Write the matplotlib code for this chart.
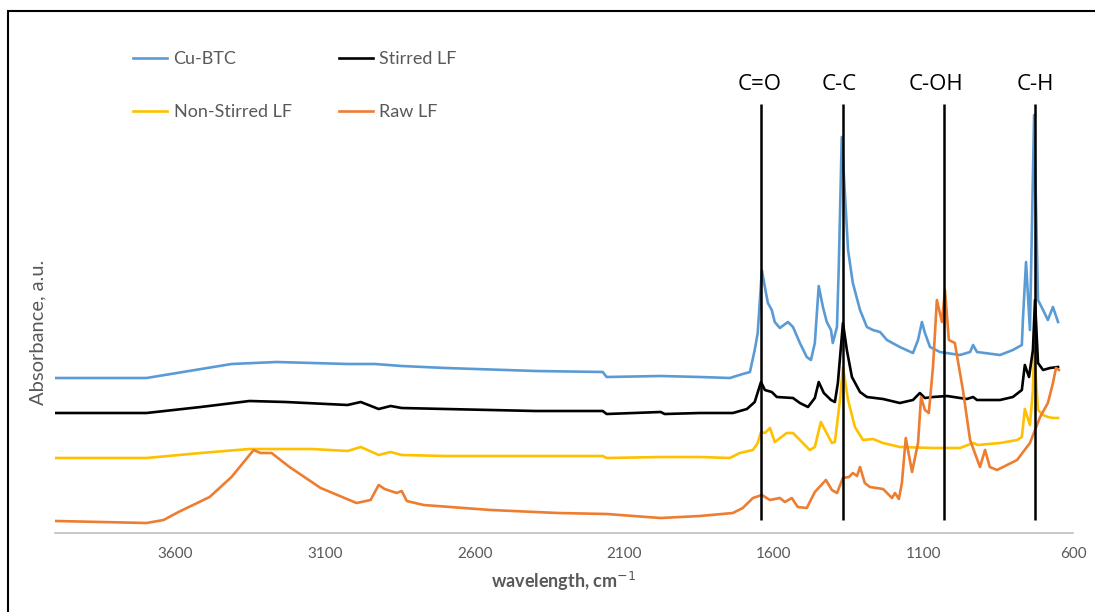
import matplotlib
matplotlib.use("Agg")
import matplotlib.pyplot as plt
from matplotlib.patches import Rectangle

# FTIR spectra (wavenumber cm-1, absorbance a.u. with offsets)
cu_btc_wn = [4001, 3697, 3413, 3262, 3025, 2934, 2844, 2697, 2396, 2172, 2159, 1978, 1847, 1747,
             1704, 1680, 1664, 1654, 1640, 1630, 1620, 1607, 1597, 1580, 1553, 1536, 1513, 1490,
             1476, 1463, 1450, 1436, 1423, 1409, 1403, 1389, 1383, 1373, 1352, 1336, 1312, 1289,
             1269, 1245, 1222, 1179, 1135, 1118, 1105, 1095, 1078, 1045, 978, 944, 934, 921, 844,
             801, 771, 767, 757, 744, 730, 717, 700, 684, 667, 650]
cu_btc_abs = [1.55, 1.55, 1.69, 1.71, 1.69, 1.69, 1.67, 1.65, 1.62, 1.61, 1.56, 1.57, 1.56, 1.55,
              1.59, 1.61, 1.83, 2.00, 2.63, 2.46, 2.30, 2.23, 2.11, 2.05, 2.11, 2.06, 1.90, 1.76,
              1.73, 1.90, 2.47, 2.26, 2.11, 2.03, 1.90, 2.06, 2.66, 3.96, 2.83, 2.50, 2.23, 2.06,
              2.03, 2.01, 1.93, 1.86, 1.80, 1.93, 2.11, 2.00, 1.86, 1.81, 1.78, 1.81, 1.88, 1.81, 1.78,
              1.83, 1.88, 2.16, 2.71, 2.03, 4.18, 2.33, 2.23, 2.13, 2.26, 2.11]

stirred_wn = [4001, 3697, 3516, 3353, 3232, 3025, 2981, 2921, 2881, 2844, 2697, 2396, 2172, 2159,
              1978, 1965, 1847, 1737, 1690, 1664, 1643, 1630, 1607, 1590, 1536, 1513, 1486, 1463,
              1450, 1433, 1409, 1396, 1386, 1369, 1356, 1339, 1312, 1289, 1235, 1179, 1135, 1112,
              1095, 1068, 1021, 955, 934, 921, 844, 801, 771, 761, 747, 734, 727, 717, 700, 677, 650]
stirred_abs = [1.20, 1.20, 1.26, 1.32, 1.31, 1.28, 1.31, 1.24, 1.27, 1.25, 1.24, 1.22, 1.22, 1.19,
               1.21, 1.19, 1.20, 1.20, 1.24, 1.31, 1.51, 1.43, 1.41, 1.36, 1.35, 1.30, 1.26, 1.35,
               1.51, 1.40, 1.33, 1.31, 1.50, 2.10, 1.83, 1.56, 1.41, 1.36, 1.34, 1.30, 1.33, 1.40,
               1.35, 1.36, 1.37, 1.34, 1.36, 1.33, 1.33, 1.36, 1.43, 1.68, 1.56, 1.83, 2.33, 1.70,
               1.63, 1.65, 1.66]

nonstirred_wn = [4001, 3697, 3516, 3353, 3145, 3025, 2981, 2921, 2881, 2844, 2697, 2396, 2172, 2159,
                 1978, 1847, 1747, 1714, 1670, 1654, 1643, 1630, 1613, 1597, 1557, 1536, 1513, 1480,
                 1463, 1443, 1429, 1406, 1396, 1379, 1369, 1352, 1329, 1302, 1269, 1235, 1179, 1068,
                 978, 934, 918, 844, 787, 771, 761, 744, 734, 730, 717, 700, 684, 667, 650]
nonstirred_abs = [0.75, 0.75, 0.80, 0.84, 0.84, 0.82, 0.86, 0.78, 0.81, 0.78, 0.77, 0.77, 0.77, 0.75,
                  0.76, 0.76, 0.75, 0.80, 0.83, 0.90, 1.01, 1.00, 1.05, 0.91, 1.00, 1.00, 0.93, 0.83,
                  0.86, 1.11, 1.03, 0.90, 0.91, 1.33, 1.66, 1.33, 1.06, 0.93, 0.94, 0.90, 0.86, 0.85,
                  0.85, 0.90, 0.88, 0.90, 0.93, 0.96, 1.24, 1.08, 1.43, 1.81, 1.23, 1.18, 1.16, 1.15,
                  1.15]

raw_wn = [4001, 3697, 3640, 3590, 3486, 3413, 3339, 3316, 3279, 3219, 3115, 2995, 2948, 2921, 2901,
          2861, 2844, 2827, 2771, 2547, 2322, 2159, 2025, 1978, 1847, 1737, 1704, 1670, 1640, 1613,
          1580, 1563, 1540, 1520, 1490, 1463, 1426, 1406, 1389, 1369, 1349, 1336, 1322, 1312, 1296,
          1279, 1235, 1205, 1195, 1182, 1172, 1159, 1138, 1118, 1108, 1095, 1082, 1068, 1055, 1038,
          1028, 1015, 995, 968, 944, 911, 894, 878, 854, 787, 744, 710, 684, 667, 657, 647]
raw_abs = [0.12, 0.10, 0.13, 0.21, 0.36, 0.56, 0.83, 0.80, 0.80, 0.66, 0.45, 0.30, 0.33, 0.48, 0.44,
           0.40, 0.42, 0.32, 0.28, 0.23, 0.20, 0.19, 0.16, 0.15, 0.17, 0.20, 0.25, 0.35, 0.38, 0.33,
           0.35, 0.31, 0.35, 0.26, 0.25, 0.41, 0.53, 0.43, 0.40, 0.55, 0.56, 0.60, 0.57, 0.66, 0.50,
           0.46, 0.44, 0.35, 0.40, 0.34, 0.50, 0.95, 0.61, 0.90, 1.36, 1.23, 1.20, 1.66, 2.33, 2.11,
           2.43, 1.93, 1.90, 1.43, 0.93, 0.66, 0.83, 0.66, 0.63, 0.73, 0.90, 1.16, 1.30, 1.50, 1.65,
           1.63]

bands_wn = [1643, 1369, 1031, 726]
bands_lbl = ["C=O", "C-C", "C-OH", "C-H"]
lbl_wn = [1646, 1382, 1058, 726]
xticks = [3600, 3100, 2600, 2100, 1600, 1100, 600]

W, H = 1095, 612
fig = plt.figure(figsize=(W / 100, H / 100), dpi=100)
ax = fig.add_axes([55 / W, (H - 533) / H, (1073 - 55) / W, 493 / H])

gray = "#595959"
lw = 1.9
ax.plot(cu_btc_wn, cu_btc_abs, color="#5B9BD5", lw=lw, label="Cu-BTC")
ax.plot(nonstirred_wn, nonstirred_abs, color="#FFC000", lw=lw, label="Non-Stirred LF")
ax.plot(stirred_wn, stirred_abs, color="black", lw=lw, label="Stirred LF")
ax.plot(raw_wn, raw_abs, color="#ED7D31", lw=lw, label="Raw LF")

ax.vlines(bands_wn, 0.13, 4.29, color="black", lw=1.8)
for wn, lbl in zip(lbl_wn, bands_lbl):
    ax.text(wn, 4.48, lbl, ha="center", va="center", fontsize=16, family="Open Sans")

ax.set_xlim(4003, 600)
ax.set_ylim(0, 4.93)
ax.set_xticks(xticks)
ax.set_xticklabels([str(t) for t in xticks], family="Lato", fontsize=11, color=gray)
ax.set_yticks([])
ax.tick_params(axis="x", length=0, pad=10)
for s in ["left", "top", "right"]:
    ax.spines[s].set_visible(False)
ax.spines["bottom"].set_color("#BFBFBF")
ax.spines["bottom"].set_linewidth(1.2)

ax.set_xlabel("wavelength, cm$^{-1}$", family="Lato", fontsize=13, fontweight="bold", color=gray)
ax.xaxis.set_label_coords(0.5, -0.075)
ax.set_ylabel("Absorbance, a.u.", family="Lato", fontsize=14.5, color=gray)
ax.yaxis.set_label_coords(-0.008, 0.406)

ax.legend(ncol=2, loc="upper left", bbox_to_anchor=(133 / W, 1 - 51 / H),
          bbox_transform=fig.transFigure, frameon=False, borderpad=0, borderaxespad=0,
          handlelength=1.9, handletextpad=0.35, columnspacing=2.6, labelspacing=2.07,
          prop={"family": "Lato", "size": 13}, labelcolor=gray)

fig.patches.append(Rectangle((8 / W, -0.1), 1.2, 1.1 - 11 / H, transform=fig.transFigure,
                             fill=False, edgecolor="black", lw=1.5))

fig.savefig("out.png", dpi=100)
